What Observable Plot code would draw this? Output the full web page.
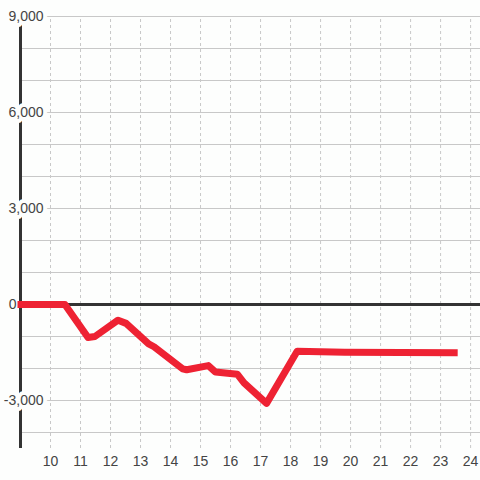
<!DOCTYPE html>
<html>
<head>
<meta charset="utf-8">
<script src="https://cdn.jsdelivr.net/npm/d3@7"></script>
<script src="https://cdn.jsdelivr.net/npm/@observablehq/plot@0.6"></script>
<style>
  html, body { margin: 0; padding: 0; background: #fdfefd; }
  #chart svg { display: block; }
</style>
</head>
<body>
<div id="chart"></div>
<script>
// Series
const xValues = [8.9, 10.48, 11.25, 11.48, 12.25, 12.52, 13.27, 13.45, 14.4, 14.54, 15.26, 15.5, 16.23, 16.45, 17.2, 18.22, 19.8, 23.57];
const yValues = [0, 0, -1030, -1000, -490, -590, -1230, -1320, -2010, -2040, -1910, -2110, -2180, -2450, -3090, -1460, -1490, -1510];

// Ticks
const xTicks = [10, 11, 12, 13, 14, 15, 16, 17, 18, 19, 20, 21, 22, 23, 24];
const yGrid = [-4000, -3000, -2000, -1000, 0, 1000, 2000, 3000, 4000, 5000, 6000, 7000, 8000, 9000];
const yTickValues = [-3000, 3000, 6000, 9000];
const yTickLabels = ["-3,000", "3,000", "6,000", "9,000"];
const zeroLabel = ["0"];

const xDomain = [9, 24.33];
const yDomain = [-4500, 9000];

const series = xValues.map((x, i) => ({x, y: yValues[i]}));
const yLabelData = yTickValues.map((v, i) => ({y: v, label: yTickLabels[i]}));

const font = "Liberation Sans, Arial, sans-serif";

const chart = Plot.plot({
  width: 480,
  height: 480,
  marginTop: 16,
  marginBottom: 32,
  marginLeft: 20,
  marginRight: 0,
  style: {background: "#fdfefd", fontFamily: font, fontSize: "14px", color: "#444"},
  x: {domain: xDomain, axis: null},
  y: {domain: yDomain, axis: null},
  marks: [
    Plot.ruleY(yGrid, {x1: xDomain[0], x2: xDomain[1], stroke: "#c8c8c8", strokeWidth: 1}),
    Plot.ruleX(xTicks, {y1: yDomain[0], y2: yDomain[1], stroke: "#c8c8c8", strokeWidth: 1, strokeDasharray: "3,3"}),
    Plot.ruleX([xDomain[0]], {y1: yDomain[0], y2: yDomain[1], stroke: "#333", strokeWidth: 3}),
    Plot.text(yLabelData, {x: xDomain[0], y: "y", text: "label", textAnchor: "end", dx: 23, fill: "#444", stroke: "#fdfefd", strokeWidth: 8, fontSize: 14, fontFamily: font}),
    Plot.text(zeroLabel, {x: xDomain[0], y: 0, text: d => d, textAnchor: "end", dx: -4, fill: "#444", stroke: "#fdfefd", strokeWidth: 6, fontSize: 14, fontFamily: font}),
    Plot.ruleY([0], {x1: xDomain[0], x2: xDomain[1], stroke: "#333", strokeWidth: 3}),
    Plot.line(series, {x: "x", y: "y", stroke: "#ee2233", strokeWidth: 7, strokeLinejoin: "round", strokeLinecap: "butt"}),
    Plot.text(xTicks, {x: d => d, y: yDomain[0], text: d => String(d), dy: 13, fill: "#444", fontSize: 14, fontFamily: font, textAnchor: "middle"})
  ]
});
document.getElementById("chart").appendChild(chart);
</script>
</body>
</html>
